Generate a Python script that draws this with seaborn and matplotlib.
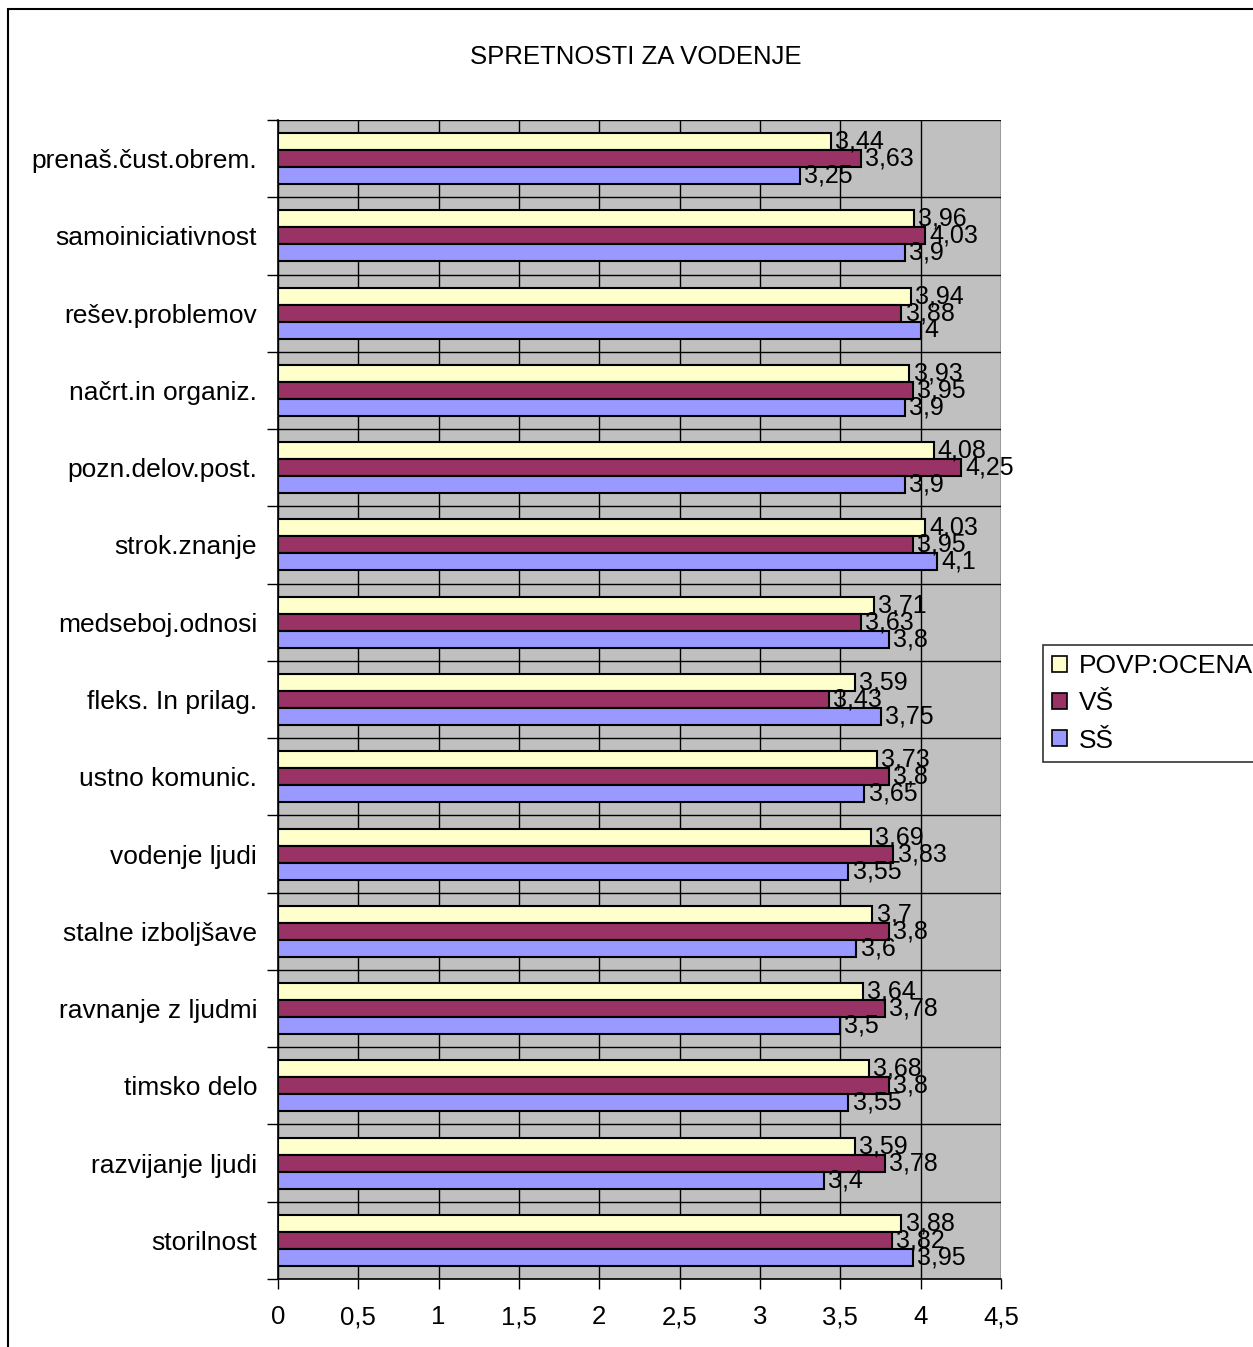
import matplotlib
matplotlib.use("Agg")
import matplotlib.pyplot as plt
import seaborn as sns
import pandas as pd
import numpy as np
from matplotlib.patches import Rectangle

categories = ["prenaš.čust.obrem.", "samoiniciativnost", "rešev.problemov", "načrt.in organiz.",
              "pozn.delov.post.", "strok.znanje", "medseboj.odnosi", "fleks. In prilag.",
              "ustno komunic.", "vodenje ljudi", "stalne izboljšave", "ravnanje z ljudmi",
              "timsko delo", "razvijanje ljudi", "storilnost"]
povp = [3.44, 3.96, 3.94, 3.93, 4.08, 4.03, 3.71, 3.59, 3.73, 3.69, 3.70, 3.64, 3.68, 3.59, 3.88]
vs = [3.63, 4.03, 3.88, 3.95, 4.25, 3.95, 3.63, 3.43, 3.80, 3.83, 3.80, 3.78, 3.80, 3.78, 3.82]
ss = [3.25, 3.90, 4.00, 3.90, 3.90, 4.10, 3.80, 3.75, 3.65, 3.55, 3.60, 3.50, 3.55, 3.40, 3.95]
series_names = ["POVP:OCENA", "VŠ", "SŠ"]
colors = ["#FFFFCC", "#993366", "#9999FF"]
xticks = [0, 0.5, 1, 1.5, 2, 2.5, 3, 3.5, 4, 4.5]
title = "SPRETNOSTI ZA VODENJE"

rows = []
for name, vals in zip(series_names, [povp, vs, ss]):
    for c, v in zip(categories, vals):
        rows.append({"cat": c, "val": v, "series": name})
df = pd.DataFrame(rows)

sns.set_theme(style="white")
plt.rcParams["font.family"] = ["Liberation Sans", "DejaVu Sans"]
for k in ["text.color", "axes.labelcolor", "xtick.color", "ytick.color"]:
    plt.rcParams[k] = "black"

fig = plt.figure(figsize=(12.53, 13.47), dpi=100)
ax = fig.add_axes([278/1253, 1-1279/1347, (1001-278)/1253, (1279-120)/1347])
ax.set_facecolor("#C0C0C0")

sns.barplot(data=df, y="cat", x="val", hue="series", order=categories,
            hue_order=series_names, palette=colors, orient="h", width=0.66,
            edgecolor="black", linewidth=1.5, ax=ax, legend=True, saturation=1)

for cont in ax.containers:
    labels = [f"{v:g}".replace(".", ",") for v in cont.datavalues]
    ax.bar_label(cont, labels=labels, padding=3, fontsize=18, color="black")

ax.set_xlim(0, 4.5)
ax.set_ylim(len(categories) - 0.5, -0.5)
ax.set_xticks(xticks)
ax.set_xticklabels([f"{t:g}".replace(".", ",") for t in xticks], fontsize=18.5)
ax.set_yticks(range(len(categories)))
ax.set_yticklabels(categories, fontsize=19)
ax.set_yticks(np.arange(-0.5, len(categories), 1), minor=True)
ax.tick_params(axis="y", which="major", length=0, pad=15, labelcolor="black")
ax.tick_params(axis="y", which="minor", length=8, width=1, color="black", left=True)
ax.tick_params(axis="x", which="major", length=7, width=1, color="black", bottom=True, pad=12,
               labelcolor="black")
ax.set_xlabel("")
ax.set_ylabel("")
ax.set_axisbelow(True)
ax.xaxis.grid(True, color="black", linewidth=1)
ax.yaxis.grid(True, which="minor", color="black", linewidth=1)
ax.yaxis.grid(False, which="major")
for s in ["top", "right"]:
    ax.spines[s].set_visible(False)
for s in ["left", "bottom"]:
    ax.spines[s].set_color("black")
    ax.spines[s].set_linewidth(1.2)

ax.get_legend().remove()
handles = [Rectangle((0, 0), 1, 1, facecolor=c, edgecolor="black", linewidth=1.2) for c in colors]
leg = fig.legend(handles, series_names, loc="upper left", bbox_to_anchor=(1043/1253, 1-645/1347),
                 fontsize=19, frameon=True, fancybox=False, edgecolor="black",
                 handlelength=0.55, handleheight=0.55, handletextpad=0.45, borderpad=0.35,
                 labelspacing=0.5, borderaxespad=0, labelcolor="black")
leg.get_frame().set_linewidth(1.2)

fig.text(636/1253, 1-57/1347, title, ha="center", va="center", fontsize=18.5, color="black")

fig.patches.append(Rectangle((8/1253, -0.02), 1.1, 1-9/1347+0.02, transform=fig.transFigure,
                             fill=False, edgecolor="black", linewidth=1.5))

fig.savefig("out.png", dpi=100)
